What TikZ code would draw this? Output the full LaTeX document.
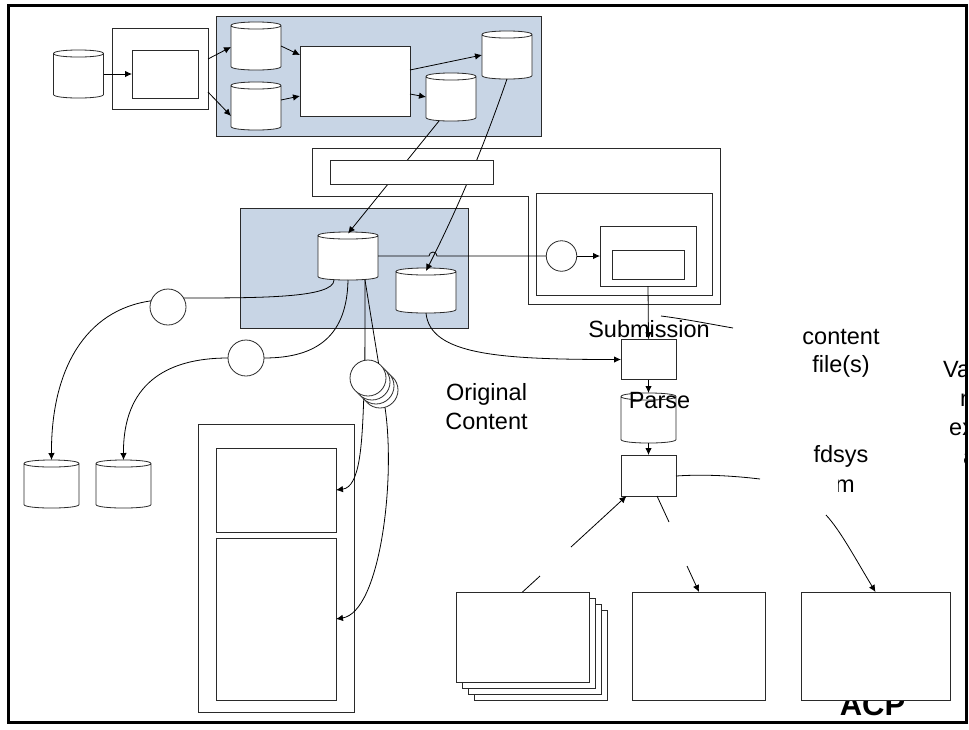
\documentclass[tikz,border=0pt]{standalone}
\usepackage{fontspec}
\setmainfont{Liberation Sans}
\usepackage{tikz}
\usetikzlibrary{positioning,shapes.geometric,arrows.meta}
\definecolor{panelblue}{HTML}{C8D5E5}
\definecolor{edgegray}{HTML}{2A2A2A}

% outline of a storage drum around a plain node
\newcommand{\drumpath}[1]{%
	\pgfinterruptpath
	\draw[box] ([yshift=-3.5pt]#1.north west) -- ([yshift=3.5pt]#1.south west)
		.. controls ([yshift=-1.2pt]#1.south west) and ([yshift=-1.2pt]#1.south east) .. ([yshift=3.5pt]#1.south east)
		-- ([yshift=-3.5pt]#1.north east)
		.. controls ([yshift=1.2pt]#1.north east) and ([yshift=1.2pt]#1.north west) .. ([yshift=-3.5pt]#1.north west)
		.. controls ([yshift=-8.2pt]#1.north west) and ([yshift=-8.2pt]#1.north east) .. ([yshift=-3.5pt]#1.north east);
	\endpgfinterruptpath}

\tikzset{
	box/.style = {draw=edgegray, fill=white, line width=0.8pt, inner sep=0pt, outer sep=0pt},
	panel/.style = {box, fill=panelblue},
	db/.style = {inner sep=0pt, outer sep=0pt, minimum width=50pt, minimum height=48pt,
		append after command={\pgfextra{\drumpath{\tikzlastnode}}}},
	disc/.style = {box, circle, minimum size=36pt},
	conn/.style = {draw=black, line width=0.8pt},
	arr/.style = {conn, -{Latex[length=7pt,width=6.5pt]}},
	lbl/.style = {font=\fontsize{23.5}{28.5}\selectfont, align=center, inner sep=0pt}
}

\begin{document}
\begin{tikzpicture}[x=1pt, y=-1pt]
	\useasboundingbox (0,0) rectangle (969,729);
	
	\node[lbl, font=\fontsize{31}{34}\selectfont\bfseries] (acp) at (872.5,705) {ACP};
	
	% top row
	\node[db] (src) at (78.5,74) {};
	\node[box, minimum width=96pt, minimum height=81pt] (wrap) at (160,68.5) {};
	\node[box, minimum width=66pt, minimum height=48pt] (inner) at (165,74) {};
	\node[panel, minimum width=325pt, minimum height=120pt] (top) at (379,76) {};
	\node[db] (pa) at (256,46) {};
	\node[db, below=12pt of pa] (pb) {};
	\node[box, minimum width=110pt, minimum height=70pt] (job) at (355,81) {};
	\node[db] (pc) at (507,55) {};
	\node[db] (pd) at (451,97) {};
	
	\draw[arr] (src.east) -- (inner.west);
	\draw[arr] ([yshift=9.5pt]wrap.east) -- ([yshift=-1pt]pa.west);
	\draw[arr] ([yshift=-23.5pt]wrap.east) -- ([yshift=-10pt]pb.west);
	\draw[arr] ([yshift=0pt]pa.east) -- ([yshift=26pt]job.west);
	\draw[arr] ([yshift=6pt]pb.east) -- ([yshift=-15pt]job.west);
	\draw[arr] ([yshift=11pt]job.east) -- (pc.west);
	\draw[arr] ([yshift=-13pt]job.east) -- (pd.west);
	
	% middle
	\draw[box] (312.5,148.5) -- (720,148.5) -- (720,304) -- (528,304) -- (528,196) -- (312.5,196) -- cycle;
	\node[box, minimum width=176pt, minimum height=102pt] (host) at (624,244) {};
	\node[box, minimum width=96pt, minimum height=60pt] (form) at (648,256) {};
	\node[box, minimum width=72pt, minimum height=29pt] (field) at (648,264.5) {};
	\node[disc, minimum size=30.5pt] (gate) at (561.5,256) {};
	\node[panel, minimum width=228pt, minimum height=120pt] (mid) at (354,268) {};
	\node[db, minimum width=60pt] (core) at (348,256) {};
	\node[db, minimum width=60pt, minimum height=45pt] (extra) at (426,290.5) {};
	
	\draw[arr] ([xshift=-12pt]pd.south) -- ([yshift=-1.5pt]core.north);
	\draw[arr] (pc.south) .. controls (488,134) and (464,196) .. ([yshift=-3pt]extra.north);
	\node[box, minimum width=163.5pt, minimum height=24pt] (bar) at (412,172) {};
	
	\draw[conn] (core.east) -- ++(51,0) arc[start angle=180, end angle=0, radius=4pt] -- (gate.west);
	\draw[arr] (gate.east) -- (form.west);
	
	% right column
	\node[box, minimum width=55pt, minimum height=40.5pt] (sq1) at (648.5,359.5) {};
	\node[db, minimum width=55pt, minimum height=50pt] (cyl) at (648.5,418) {};
	\node[box, minimum width=55pt, minimum height=41pt, below=12pt of cyl] (sq2) {};
	
	\draw[arr] (form.south) -- (sq1.north);
	\draw[arr] (sq1.south) -- (cyl.north);
	\draw[arr] (cyl.south) -- (sq2.north);
	\draw[arr] (extra.south) .. controls (430,355) and (500,359.5) .. (sq1.west);
	
	% lower left
	\node[disc] (c1) at (168,307) {};
	\node[disc] (c2) at (246,358) {};
	\node[db, minimum width=55pt] (lo1) at (51.5,484) {};
	\node[db, minimum width=55pt, right=17pt of lo1] (lo2) {};
	\node[disc] (k4) at (380,390) {};
	\node[disc] (k3) at (376,386) {};
	\node[disc] (k2) at (372,382) {};
	\node[disc] (k1) at (368,378) {};
	\node[box, minimum width=156pt, minimum height=288pt] (rack) at (276,568) {};
	\node[box, minimum width=120pt, minimum height=84pt] (up) at (276,490) {};
	\node[box, minimum width=120pt, minimum height=162pt, below=6pt of up] (dn) {};
	
	\draw[conn] ([xshift=-14pt]core.south) .. controls (334,298) and (260,298) .. (c1.30);
	\draw[arr] (c1.160) .. controls (85,310) and (51,370) .. (lo1.north);
	\draw[conn] (core.south) .. controls (347,335) and (318,358) .. (c2.east);
	\draw[arr] (c2.west) .. controls (165,358) and (123,385) .. (lo2.north);
	\draw[conn] ([xshift=17pt]core.south) -- (k1.100);
	\draw[conn] ([xshift=17pt]core.south) -- (k1.54);
	\draw[arr] (k3.227) .. controls (362,445) and (360,487) .. (up.east);
	\draw[arr] (k4.286) .. controls (396,480) and (380,612) .. (dn.east);
	
	% lower right boxes
	\node[box, minimum width=133pt, minimum height=90pt] (pg4) at (540.5,655) {};
	\node[box, minimum width=133pt, minimum height=90pt] (pg3) at (534.5,649) {};
	\node[box, minimum width=133pt, minimum height=90pt] (pg2) at (528.5,643) {};
	\node[box, minimum width=133pt, minimum height=90pt] (pg1) at (522.5,637) {};
	\node[box, minimum width=133pt, minimum height=108pt] (res) at (699,646) {};
	\node[box, minimum width=149pt, minimum height=108pt] (acpbox) at (875.5,646) {};
	
	% connectors with a free end
	\coordinate (fa) at (661,316);
	\coordinate (fb) at (733,328);
	\coordinate (fc) at (760,479);
	\coordinate (fd) at (826,515);
	\coordinate (fe) at (571,547);
	\coordinate (ff) at (540,576);
	\coordinate (fg) at (669,522);
	\coordinate (fh) at (687,566);
	
	\draw[conn] (fa) .. controls (685,319) and (710,324) .. (fb);
	\draw[conn] ([yshift=-0.5pt]sq2.east) .. controls (705,474) and (735,476) .. (fc);
	\draw[arr] (fd) .. controls (840,530) and (855,558) .. (acpbox.north);
	\draw[arr] (fe) -- ([xshift=-22pt]sq2.south);
	\draw[conn] ([xshift=8.5pt]sq2.south) -- (fg);
	\draw[arr] (fh) -- (res.north);
	\draw[conn] (ff) -- (pg1.north);
	
	% labels
	\node[lbl] (sub) at (649,329) {Submission};
	\node[lbl] (parse) at (659.5,401) {Parse};
	\node[lbl] (orig) at (486.5,406.5) {Original\\Content};
	\node[lbl] (file) at (841,353.5) {content\\file(s)};
	\node[lbl] (fds) at (841,456.5) {fdsys};
	\begin{scope}
		\clip (838,470) rectangle (870,500);
		\node[lbl] (fdm) at (845,486) {m};
	\end{scope}
	\begin{scope}
		\clip (0,0) rectangle (966,729);
		\node[lbl, anchor=west] (va1) at (943,370) {Va};
		\node[lbl, anchor=west] (va2) at (960,400) {n};
		\node[lbl, anchor=west] (va3) at (949,429) {ex};
		\node[lbl, anchor=west] (va4) at (963,458) {a};
	\end{scope}
	
	\node[draw=black, line width=3pt, inner sep=0pt, minimum width=957.5pt, minimum height=717pt] (frame) at (487.25,364) {};
\end{tikzpicture}
\end{document}
